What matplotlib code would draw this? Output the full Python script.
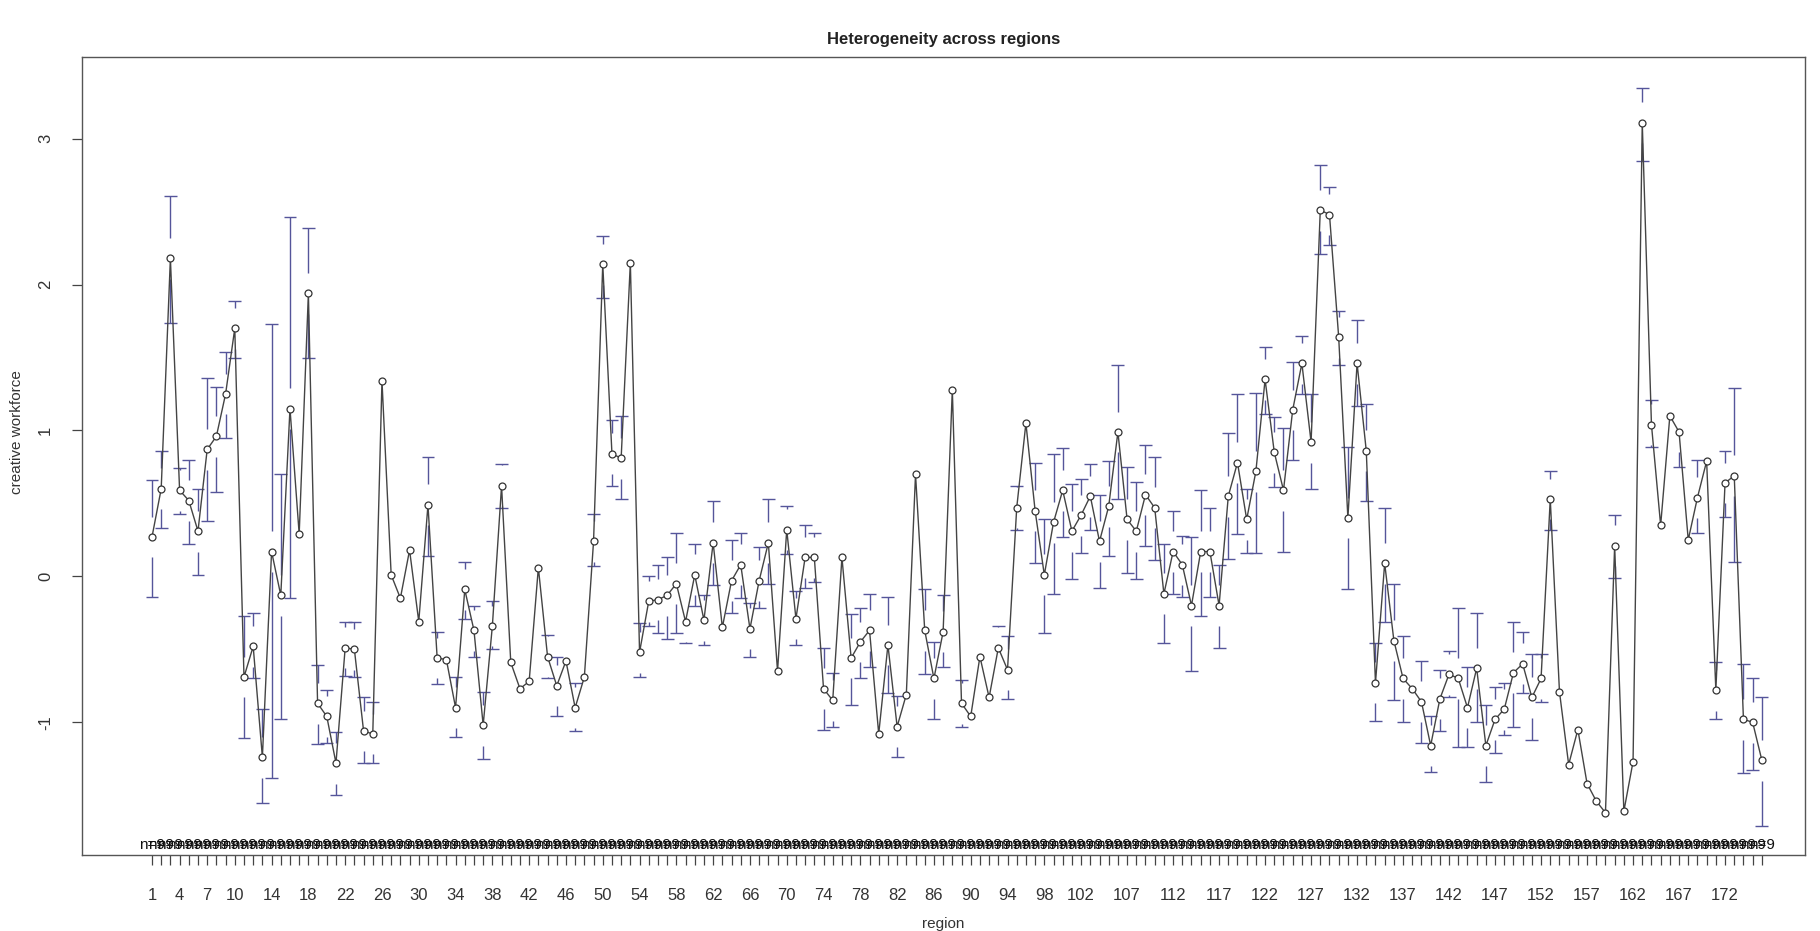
import matplotlib
matplotlib.use("Agg")
import matplotlib.pyplot as plt
import numpy as np

plt.rcParams["font.family"] = ["Liberation Sans", "DejaVu Sans"]

# group means and 95% CI limits per region (regions coded 1..176)
regions = list(range(1, 177))
means = [
    0.27, 0.60, 2.18, 0.59, 0.52, 0.31, 0.87, 0.96, 1.25, 1.70,
    -0.69, -0.48, -1.24, 0.17, -0.13, 1.15, 0.29, 1.94, -0.87, -0.96,
    -1.28, -0.49, -0.50, -1.06, -1.08, 1.34, 0.01, -0.15, 0.18, -0.31,
    0.49, -0.56, -0.57, -0.90, -0.09, -0.37, -1.02, -0.34, 0.62, -0.59,
    -0.77, -0.72, 0.06, -0.55, -0.75, -0.58, -0.90, -0.69, 0.24, 2.14,
    0.84, 0.81, 2.15, -0.52, -0.17, -0.16, -0.13, -0.05, -0.31, 0.01,
    -0.30, 0.23, -0.35, -0.03, 0.08, -0.36, -0.03, 0.23, -0.65, 0.32,
    -0.29, 0.13, 0.13, -0.77, -0.85, 0.13, -0.56, -0.45, -0.37, -1.08,
    -0.47, -1.03, -0.81, 0.70, -0.37, -0.70, -0.38, 1.28, -0.87, -0.96,
    -0.55, -0.83, -0.49, -0.64, 0.47, 1.05, 0.45, 0.01, 0.37, 0.59,
    0.31, 0.42, 0.55, 0.24, 0.48, 0.99, 0.39, 0.31, 0.56, 0.47,
    -0.12, 0.17, 0.08, -0.20, 0.17, 0.17, -0.20, 0.55, 0.78, 0.39,
    0.72, 1.35, 0.85, 0.59, 1.14, 1.46, 0.92, 2.51, 2.48, 1.64,
    0.40, 1.46, 0.86, -0.73, 0.09, -0.44, -0.70, -0.77, -0.86, -1.16,
    -0.84, -0.67, -0.70, -0.90, -0.63, -1.16, -0.98, -0.91, -0.66, -0.60,
    -0.83, -0.70, 0.53, -0.79, -1.29, -1.05, -1.42, -1.54, -1.62, 0.21,
    -1.61, -1.27, 3.11, 1.04, 0.35, 1.10, 0.99, 0.25, 0.54, 0.79,
    -0.78, 0.64, 0.69, -0.98, -1.00, -1.26,
]
ci_low = [
    -0.14, 0.33, 1.74, 0.43, 0.22, 0.01, 0.38, 0.58, 0.95, 1.50,
    -1.11, -0.70, -1.55, -1.38, -0.98, -0.15, 0.21, 1.50, -1.15, -1.14,
    -1.50, -0.68, -0.69, -1.28, -1.28, 1.26, -0.07, -0.23, 0.10, -0.39,
    0.14, -0.74, -0.65, -1.10, -0.29, -0.55, -1.25, -0.50, 0.47, -0.67,
    -0.85, -0.80, -0.02, -0.70, -0.96, -0.66, -1.06, -0.77, 0.07, 1.91,
    0.62, 0.53, 2.07, -0.69, -0.34, -0.39, -0.43, -0.39, -0.46, -0.20,
    -0.47, -0.06, -0.43, -0.25, -0.15, -0.55, -0.22, -0.05, -0.73, 0.15,
    -0.47, -0.08, -0.04, -1.05, -1.03, 0.05, -0.88, -0.70, -0.62, -1.16,
    -0.80, -1.24, -0.89, 0.62, -0.67, -0.98, -0.62, 1.20, -1.03, -1.04,
    -0.63, -0.97, -0.60, -0.84, 0.32, 0.97, 0.09, -0.39, -0.12, 0.27,
    -0.02, 0.16, 0.32, -0.08, 0.14, 0.53, 0.02, -0.02, 0.21, 0.11,
    -0.46, -0.12, -0.14, -0.65, -0.27, -0.14, -0.49, 0.12, 0.29, 0.16,
    0.16, 1.11, 0.61, 0.17, 0.80, 1.25, 0.60, 2.21, 2.27, 1.45,
    -0.09, 1.17, 0.52, -0.99, -0.31, -0.85, -1.00, -0.85, -1.14, -1.34,
    -1.06, -0.83, -1.17, -1.17, -1.00, -1.41, -1.21, -1.09, -1.03, -0.80,
    -1.12, -0.86, 0.32, -0.87, -1.37, -1.13, -1.50, -1.62, -1.70, -0.01,
    -1.69, -1.35, 2.85, 0.89, 0.27, 1.02, 0.75, 0.17, 0.30, 0.71,
    -0.98, 0.41, 0.10, -1.35, -1.33, -1.71,
]
ci_high = [
    0.66, 0.86, 2.61, 0.74, 0.80, 0.60, 1.36, 1.30, 1.54, 1.89,
    -0.27, -0.25, -0.91, 1.73, 0.70, 2.46, 0.37, 2.39, -0.61, -0.78,
    -1.07, -0.31, -0.31, -0.83, -0.86, 1.42, 0.09, -0.07, 0.26, -0.23,
    0.82, -0.38, -0.49, -0.69, 0.10, -0.20, -0.79, -0.17, 0.77, -0.51,
    -0.69, -0.64, 0.14, -0.40, -0.55, -0.50, -0.73, -0.61, 0.43, 2.33,
    1.07, 1.10, 2.23, -0.32, 0.00, 0.08, 0.13, 0.30, -0.17, 0.22,
    -0.13, 0.52, -0.27, 0.25, 0.30, -0.18, 0.20, 0.53, -0.57, 0.48,
    -0.10, 0.35, 0.30, -0.49, -0.66, 0.21, -0.26, -0.22, -0.12, -1.00,
    -0.14, -0.82, -0.73, 0.78, -0.09, -0.45, -0.13, 1.36, -0.71, -0.88,
    -0.47, -0.69, -0.34, -0.41, 0.62, 1.13, 0.78, 0.39, 0.84, 0.88,
    0.63, 0.67, 0.77, 0.56, 0.79, 1.45, 0.75, 0.65, 0.90, 0.82,
    0.22, 0.45, 0.28, 0.27, 0.59, 0.47, 0.08, 0.98, 1.25, 0.60,
    1.26, 1.57, 1.09, 1.02, 1.47, 1.65, 1.25, 2.82, 2.67, 1.82,
    0.89, 1.76, 1.18, -0.46, 0.47, -0.05, -0.41, -0.69, -0.58, -0.96,
    -0.64, -0.51, -0.22, -0.62, -0.25, -0.88, -0.76, -0.73, -0.31, -0.38,
    -0.53, -0.53, 0.72, -0.71, -1.21, -0.97, -1.34, -1.46, -1.54, 0.42,
    -1.53, -1.19, 3.35, 1.21, 0.43, 1.18, 1.04, 0.33, 0.80, 0.87,
    -0.59, 0.86, 1.29, -0.60, -0.70, -0.83,
]
n_obs = [9] * len(regions)
shown_labels = [1, 4, 7, 10, 14, 18, 22, 26, 30, 34, 38, 42, 46, 50, 54, 58,
                62, 66, 70, 74, 78, 82, 86, 90, 94, 98, 102, 107, 112, 117,
                122, 127, 132, 137, 142, 147, 152, 157, 162, 167, 172]

x = np.arange(1, len(regions) + 1)
m = np.array(means)
lo = np.array(ci_low)
hi = np.array(ci_high)

fig = plt.figure(figsize=(18.2, 9.31), dpi=100)
ax = fig.add_axes([0.0451, 0.0816, 0.9467, 0.8572])

barcol = "#55559a"
gap = 0.14
cap = 0.7

# CI arms start a small gap away from the mean, like plotCI
up = hi > m + gap
ax.vlines(x[up], m[up] + gap, hi[up], color=barcol, lw=1.0, zorder=2)
ax.hlines(hi[up], x[up] - cap, x[up] + cap, color=barcol, lw=1.0, zorder=2)
dn = lo < m - gap
ax.vlines(x[dn], lo[dn], m[dn] - gap, color=barcol, lw=1.0, zorder=2)
ax.hlines(lo[dn], x[dn] - cap, x[dn] + cap, color=barcol, lw=1.0, zorder=2)

ax.plot(x, m, color="#444444", lw=1.0, zorder=3)
ax.plot(x, m, "o", ms=5, mfc="white", mec="#333333", mew=0.9, zorder=4)

ax.set_xlim(-6.6, 180.7)
ax.set_ylim(-1.91, 3.56)

# sample size under each mean
ymin = ax.get_ylim()[0]
for xi, n in zip(x, n_obs):
    ax.text(xi, ymin + 0.02, f"n={n}", ha="center", va="bottom",
            fontsize=11, color="#111111", zorder=5)

ax.set_xticks(x)
ax.set_xticklabels([str(r) if r in shown_labels else "" for r in regions])
ax.set_yticks([-1, 0, 1, 2, 3])
ax.set_yticklabels(["-1", "0", "1", "2", "3"], rotation=90, va="center")
ax.tick_params(axis="both", direction="out", length=7, width=0.9,
               labelsize=12, colors="#444444", labelcolor="#333333")
ax.tick_params(axis="x", pad=17)
ax.tick_params(axis="y", pad=14)

for s in ax.spines.values():
    s.set_color("#555555")
    s.set_linewidth(1.0)

ax.set_xlabel("region", fontsize=11, color="#333333", labelpad=10)
ax.set_ylabel("creative workforce", fontsize=11, color="#333333", labelpad=10)
ax.yaxis.set_label_coords(-0.034, 0.53)
ax.set_title("Heterogeneity across regions", fontsize=12, fontweight="bold",
             color="#222222", pad=9)

fig.savefig("out.png", dpi=100)
